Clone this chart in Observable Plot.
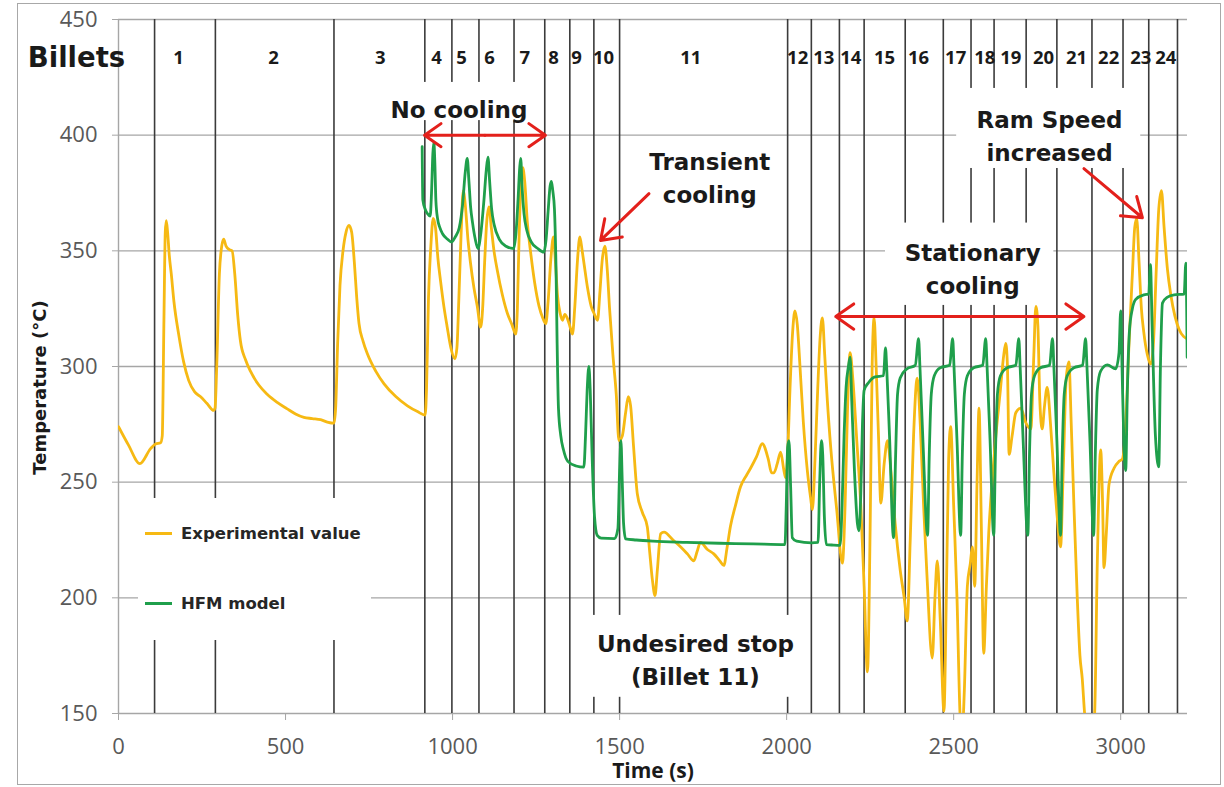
<!DOCTYPE html>
<html><head><meta charset="utf-8">
<script src="https://cdn.jsdelivr.net/npm/d3@7"></script>
<script src="https://cdn.jsdelivr.net/npm/@observablehq/plot@0.6"></script>
<style>
body{margin:0;background:#fff;}
#wrap{position:relative;width:1224px;height:787px;overflow:hidden;background:#fff;}
#border{position:absolute;left:17px;top:3px;width:1202px;height:780px;border:1.5px solid #a8a8a8;pointer-events:none;}
#legend{position:absolute;left:138px;top:498px;width:233px;height:142px;background:#fff;font-family:"DejaVu Sans";font-weight:bold;font-size:16.5px;color:#262626;}
#legend .item{position:absolute;left:7px;height:20px;display:flex;align-items:center;}
#legend .sw{width:27px;height:3px;margin-right:9px;}
</style></head>
<body><div id="wrap"><div id="chart"></div>
<div id="legend">
 <div class="item" style="top:25px"><span class="sw" style="background:#f6b913"></span>Experimental value</div>
 <div class="item" style="top:95px"><span class="sw" style="background:#1f9f4b"></span>HFM model</div>
</div>
<div id="border"></div></div>
<script>
// ---- data (time in s, temperature in °C) ----
const expT = [0,30,64,96,111,126,131,136,140,143,147,152,158,166,180,195,210,228,245,265,285,289,294,302,309,315,322,332,340,348,357,365,380,395,420,445,475,505,530,555,580,605,625,645,650,656,663,672,681,690,698,706,713,720,732,745,770,795,830,865,895,918,922,928,935,942,949,956,964,974,984,995,1007,1013,1019,1025,1032,1038,1046,1054,1064,1074,1084,1090,1096,1102,1109,1116,1124,1134,1149,1164,1178,1189,1194,1199,1204,1210,1216,1224,1234,1246,1259,1270,1279,1286,1294,1302,1308,1314,1322,1329,1336,1343,1350,1359,1366,1374,1381,1388,1394,1404,1415,1424,1434,1441,1448,1456,1463,1470,1480,1490,1498,1508,1518,1526,1533,1542,1553,1568,1583,1590,1598,1606,1613,1623,1633,1660,1683,1703,1722,1732,1742,1762,1782,1800,1812,1822,1832,1847,1862,1880,1892,1910,1927,1945,1955,1962,1972,1982,1992,1997,2003,2010,2018,2025,2032,2040,2050,2062,2072,2077,2085,2093,2100,2107,2114,2122,2132,2150,2167,2175,2182,2190,2198,2210,2222,2232,2242,2250,2256,2262,2268,2275,2282,2292,2302,2312,2325,2340,2352,2361,2370,2380,2391,2400,2410,2420,2436,2444,2451,2460,2471,2478,2485,2491,2500,2510,2519,2525,2532,2541,2550,2556,2563,2570,2576,2583,2590,2598,2605,2615,2625,2640,2650,2656,2661,2666,2675,2686,2701,2715,2731,2740,2746,2752,2758,2765,2772,2780,2790,2800,2810,2820,2828,2837,2845,2852,2860,2870,2878,2885,2892,2900,2915,2922,2930,2940,2946,2950,2957,2965,2980,2995,3005,3015,3025,3035,3042,3048,3055,3062,3069,3080,3090,3098,3106,3114,3122,3130,3140,3150,3162,3175,3188,3198];
const expV = [274,266,258,264.5,266.5,267,270,320,358,363,358,348,340,328,314,302,294,289,287,284,281,282,300,340,352,355,352,350.5,350,340,322,311,303,298,292,288,284.5,281.7,279.5,278,277.5,277,276,275.5,282,310,335,350,358,361,358,345,330,318.5,311,305.5,298,292.5,287,283,280.5,279,290,330,352,364,360,347,337,326,317,308,303.3,308,330,355,376,370,355,344.4,334,326,317,325,345,362,369,360,350,341.5,331,323,318,314,325,355,377,386,380,362,349,336,326,321,318.5,328,346,356,345,331,323,320,322.5,321,318,314,326,346,356,350,344,334,326,322.8,320,332,346,352,342,325,305,288,268,270,280,287,283,265,245,237,230.6,220,208,201,212,227.7,228.4,225,222,219,216,220,224,221,219,216,214,222,231,240,248,253,256,261,266.6,260,254,254,258,263,255,252,262,290,315,324,318,300,276,255,243,238,260,290,312,321,305,285,265,238,215,240,280,306,295,268,240,205,168,230,300,321,300,270,241,258,268,255,232,212,200,190,225,270,295,275,240,210,174,200,216,190,151,200,260,274,240,200,150,140,160,205,215,222,205,250,282,230,176,205,228,250,268,290,305,310,300,262,270,280,282,276,273,305,326,318,285,273,283,291,275,254,235,222,255,295,302,275,240,200,175,165,150,140,140,150,215,264,240,213,228,249,256,259,260,275,310,340,360,364,345,325,315,305,301,310,340,368,376,360,342,331,322,316,313,312];

const hfmT = [909,911,918,925,933,937,941,944,947,950,955,962,970,985,997,1008,1020,1030,1038,1044,1049,1054,1060,1068,1076,1085,1094,1101,1106,1111,1117,1125,1140,1160,1183,1190,1196,1201,1204,1208,1214,1222,1235,1255,1273,1280,1286,1292,1296,1300,1305,1310,1313,1317,1324,1332,1345,1370,1393,1398,1403,1408,1412,1418,1425,1433,1445,1485,1495,1500,1504,1508,1512,1518,1550,1600,1700,1800,1900,1995,1999,2003,2007,2012,2017,2030,2075,2094,2099,2104,2108,2113,2119,2140,2160,2166,2172,2178,2185,2190,2195,2203,2212,2217,2222,2227,2232,2245,2265,2290,2296,2300,2308,2320,2326,2332,2340,2360,2385,2395,2399,2408,2422,2427,2433,2442,2460,2488,2497,2501,2510,2521,2526,2532,2541,2560,2587,2596,2600,2609,2620,2625,2631,2640,2660,2686,2695,2699,2708,2722,2727,2733,2742,2760,2787,2796,2800,2809,2820,2825,2831,2840,2860,2886,2895,2899,2908,2919,2924,2930,2940,2960,2985,2995,3000,3004,3010,3015,3020,3026,3035,3045,3070,3084,3089,3094,3104,3114,3119,3125,3140,3160,3190,3195,3199];
const hfmV = [395,372,368,366,365,375,392,397,388,372,364,360,357.4,355,353.8,356,360,370,384,390,380,369,362,355,351,358,372,385,390.5,380,368,361,355,352,351,358,372,386,390,378,366,359,354,351,349.4,355,367,378,380,376,368,340,310,282,270,264,259,257,256.5,270,290,300,290,260,235,227,225.8,225.6,230,255,268,250,232,225.5,225,224.5,224,223.6,223.3,223,240,265,268,248,226,224.5,223.8,224,250,268,262,235,223,222.8,222.7,240,270,291,300,304,285,255,232,229,245,275,289.7,293,295.5,296,308,298,270,226,260,288,295,299,300.5,312,300,268,227,262,288,296,299.5,300.5,312,300,268,227,262,288,296,299.5,300.5,312,300,268,227,262,288,296,299.5,300.5,312,300,268,227,262,288,296,299.5,300.5,312,300,268,227,262,288,296,299.5,300.5,312,300,268,227,262,290,298,300.7,299,306,324,300,265,255,290,315,325,329,331,331.3,344,318,270,256.6,300,327.4,330,331,331.3,344.7,304];

const billetEdges = [108,290,645,917,998,1079,1184,1276,1351,1423,1500,2003,2074,2158,2232,2355,2469,2552,2621,2717,2809,2914,3007,3084,3170];
const billetNames = ["1","2","3","4","5","6","7","8","9","10","11","12","13","14","15","16","17","18","19","20","21","22","23","24"];
const billetLabelT = [180,464,784,952,1027,1111,1216,1302,1371,1452,1713,2033,2111,2192,2293,2395,2506,2593,2671,2769,2868,2964,3060,3135];

const xTicks = [0,500,1000,1500,2000,2500,3000];
const yTicks = [150,200,250,300,350,400,450];

// annotation text, white boxes behind them, and red arrows
const notes = [
  {text:"No cooling", t:1019, v:412},
  {text:"Transient\ncooling", t:1770, v:382.2},
  {text:"Stationary\ncooling", t:2557, v:343},
  {text:"Ram Speed\nincreased", t:2787, v:400.5},
  {text:"Undesired stop\n(Billet 11)", t:1727, v:174}
];
const boxes = [
  {x1:814, x2:1233, y1:406.3, y2:422.8},
  {x1:1383, x2:2042, y1:157, y2:192.4},
  {x1:2296, x2:2800, y1:326.4, y2:362},
  {x1:2509, x2:3060, y1:385.6, y2:420.2}
];
const arrows = [
  {x1:1097, y1:400, x2:916, y2:400},
  {x1:1097, y1:400, x2:1278, y2:400},
  {x1:1588, y1:374.7, x2:1443, y2:354.5},
  {x1:2518, y1:321.6, x2:2147, y2:321.6},
  {x1:2518, y1:321.6, x2:2890, y2:321.6},
  {x1:2890, y1:385.5, x2:3065, y2:364.3}
];

const exp = expT.map((t,i)=>({t, v:expV[i]}));
const hfm = hfmT.map((t,i)=>({t, v:hfmV[i]}));
const labels = billetLabelT.map((t,i)=>({t, name:billetNames[i]}));

const YEL = "#f6b913", GRN = "#1f9f4b", RED = "#e3201b";
const ann = "DejaVu Sans";

const chart = Plot.plot({
  width:1224, height:787,
  marginLeft:118, marginRight:37, marginTop:19, marginBottom:74,
  style:{fontFamily:"Open Sans", background:"transparent", overflow:"visible"},
  x:{domain:[0,3200]},
  y:{domain:[150,450]},
  marks:[
    Plot.ruleY(yTicks, {stroke:"#a6a6a6", strokeWidth:1.4}),
    Plot.ruleX([0], {stroke:"#a6a6a6", strokeWidth:1.4}),
    Plot.ruleX(billetEdges, {stroke:"#3b3b3b", strokeWidth:1.6}),
    Plot.rect(boxes, {x1:"x1", x2:"x2", y1:"y1", y2:"y2", fill:"white"}),
    Plot.axisX({ticks:xTicks, tickFormat:d3.format("d"), tickSize:7, tickPadding:18, fontSize:22, stroke:"#a6a6a6", fill:"#595959", label:null}),
    Plot.axisY({ticks:yTicks, tickSize:6, tickPadding:15, fontSize:22, stroke:"#a6a6a6", fill:"#595959", label:null}),
    Plot.line(exp, {x:"t", y:"v", stroke:YEL, strokeWidth:2.8, curve:"monotone-x", clip:true}),
    Plot.line(hfm, {x:"t", y:"v", stroke:GRN, strokeWidth:2.8, curve:"monotone-x", clip:true}),
    Plot.text(labels, {x:"t", text:"name", frameAnchor:"top", lineAnchor:"middle", dy:39, fontSize:18.5, fontWeight:"bold", fill:"#1a1a1a"}),
    Plot.text(["Billets"], {frameAnchor:"top-left", textAnchor:"middle", lineAnchor:"middle", dx:-42, dy:39, fontSize:27.5, fontWeight:"bold", fontFamily:ann, fill:"#1a1a1a"}),
    Plot.text(notes, {x:"t", y:"v", text:"text", fontSize:23, lineHeight:1.43, fontWeight:"bold", fontFamily:ann, fill:"#1a1a1a"}),
    Plot.arrow(arrows, {x1:"x1", y1:"y1", x2:"x2", y2:"y2", stroke:RED, strokeWidth:3, headLength:11, headAngle:70}),
    Plot.text(["Time (s)"], {frameAnchor:"bottom", lineAnchor:"middle", textAnchor:"middle", dy:58, fontSize:21, fontWeight:"bold", fill:"#1a1a1a"}),
    Plot.text(["Temperature (°C)"], {frameAnchor:"left", textAnchor:"middle", lineAnchor:"middle", dx:-78, dy:21, rotate:-90, fontSize:18, fontWeight:"bold", fontFamily:ann, fill:"#1a1a1a"})
  ]
});
document.getElementById("chart").appendChild(chart);
</script>
</body></html>
